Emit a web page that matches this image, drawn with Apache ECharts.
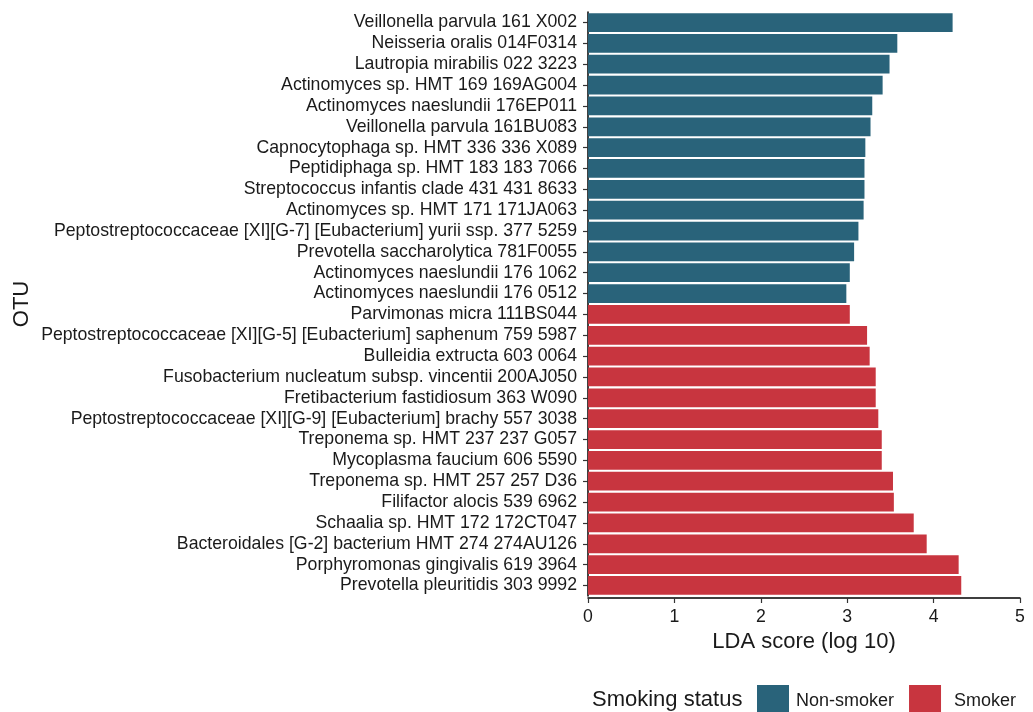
<!DOCTYPE html>
<html>
<head>
<meta charset="utf-8">
<script src="https://cdn.jsdelivr.net/npm/echarts@6/dist/echarts.min.js"></script>
<style>
  html, body { margin: 0; padding: 0; background: #ffffff; }
  #chart { width: 1033px; height: 712px; }
</style>
</head>
<body>
<div id="chart"></div>
<script>
// OTUs listed from top to bottom of the chart
const otus = [
  'Veillonella parvula 161 X002',
  'Neisseria oralis 014F0314',
  'Lautropia mirabilis 022 3223',
  'Actinomyces sp. HMT 169 169AG004',
  'Actinomyces naeslundii 176EP011',
  'Veillonella parvula 161BU083',
  'Capnocytophaga sp. HMT 336 336 X089',
  'Peptidiphaga sp. HMT 183 183 7066',
  'Streptococcus infantis clade 431 431 8633',
  'Actinomyces sp. HMT 171 171JA063',
  'Peptostreptococcaceae [XI][G-7] [Eubacterium] yurii ssp. 377 5259',
  'Prevotella saccharolytica 781F0055',
  'Actinomyces naeslundii 176 1062',
  'Actinomyces naeslundii 176 0512',
  'Parvimonas micra 111BS044',
  'Peptostreptococcaceae [XI][G-5] [Eubacterium] saphenum 759 5987',
  'Bulleidia extructa 603 0064',
  'Fusobacterium nucleatum subsp. vincentii 200AJ050',
  'Fretibacterium fastidiosum 363 W090',
  'Peptostreptococcaceae [XI][G-9] [Eubacterium] brachy 557 3038',
  'Treponema sp. HMT 237 237 G057',
  'Mycoplasma faucium 606 5590',
  'Treponema sp. HMT 257 257 D36',
  'Filifactor alocis 539 6962',
  'Schaalia sp. HMT 172 172CT047',
  'Bacteroidales [G-2] bacterium HMT 274 274AU126',
  'Porphyromonas gingivalis 619 3964',
  'Prevotella pleuritidis 303 9992'
];

// LDA score (log 10) for each OTU, same order as above
const ldaScores = [
  4.22, 3.58, 3.49, 3.41, 3.29, 3.27, 3.21, 3.20, 3.20, 3.19, 3.13, 3.08, 3.03, 2.99,
  3.03, 3.23, 3.26, 3.33, 3.33, 3.36, 3.40, 3.40, 3.53, 3.54, 3.77, 3.92, 4.29, 4.32
];

// Group each OTU is enriched in
const status = [
  'Non-smoker', 'Non-smoker', 'Non-smoker', 'Non-smoker', 'Non-smoker', 'Non-smoker', 'Non-smoker',
  'Non-smoker', 'Non-smoker', 'Non-smoker', 'Non-smoker', 'Non-smoker', 'Non-smoker', 'Non-smoker',
  'Smoker', 'Smoker', 'Smoker', 'Smoker', 'Smoker', 'Smoker', 'Smoker',
  'Smoker', 'Smoker', 'Smoker', 'Smoker', 'Smoker', 'Smoker', 'Smoker'
];

const groups = ['Non-smoker', 'Smoker'];
const groupColors = { 'Non-smoker': '#29637a', 'Smoker': '#c8353f' };

const xTicks = [0, 1, 2, 3, 4, 5];

const FONT = '"Liberation Sans", Arial, Helvetica, sans-serif';
const INK = '#1a1a1a';

const chart = echarts.init(document.getElementById('chart'), null, { renderer: 'canvas' });

const series = groups.map(g => ({
  name: g,
  type: 'bar',
  stack: 'lda',
  barWidth: '90%',
  itemStyle: { color: groupColors[g] },
  data: ldaScores.map((v, i) => (status[i] === g ? v : '-'))
}));

chart.setOption({
  animation: false,
  backgroundColor: '#ffffff',
  textStyle: { fontFamily: FONT },
  grid: { left: 588, right: 13, top: 12.1, bottom: 116.1, containLabel: false },
  title: {
    text: 'Smoking status',
    left: 592,
    top: 689,
    padding: 0,
    textStyle: { fontFamily: FONT, fontSize: 22, fontWeight: 'normal', color: INK }
  },
  legend: {
    data: [
      { name: groups[0], textStyle: { padding: [0, 0, 0, 2] } },
      { name: groups[1], textStyle: { padding: [0, 0, 0, 8] } }
    ],
    left: 757,
    top: 685,
    padding: 0,
    itemWidth: 32,
    itemHeight: 32,
    itemGap: 15,
    icon: 'rect',
    textStyle: { fontFamily: FONT, fontSize: 18, color: INK }
  },
  xAxis: {
    type: 'value',
    min: xTicks[0],
    max: xTicks[xTicks.length - 1],
    interval: 1,
    offset: 2.1,
    name: 'LDA score (log 10)',
    nameLocation: 'middle',
    nameGap: 33,
    nameTextStyle: { fontFamily: FONT, fontSize: 22, color: INK },
    axisLine: { show: true, lineStyle: { color: '#000000', width: 1.5 } },
    axisTick: { show: true, length: 5, lineStyle: { color: '#333333', width: 1.2 } },
    axisLabel: { fontFamily: FONT, fontSize: 17.7, color: INK, margin: 10 },
    splitLine: { show: false }
  },
  yAxis: {
    type: 'category',
    data: otus,
    inverse: true,
    name: 'OTU',
    nameLocation: 'middle',
    nameRotate: 90,
    nameGap: 555,
    nameTextStyle: { fontFamily: FONT, fontSize: 22, color: INK },
    axisLine: { show: true, lineStyle: { color: '#000000', width: 1.5 } },
    axisTick: { show: true, length: 5, alignWithLabel: true, lineStyle: { color: '#333333', width: 1.2 } },
    axisLabel: { fontFamily: FONT, fontSize: 17.7, color: INK, margin: 11, interval: 0 },
    splitLine: { show: false }
  },
  series: series
});
</script>
</body>
</html>
